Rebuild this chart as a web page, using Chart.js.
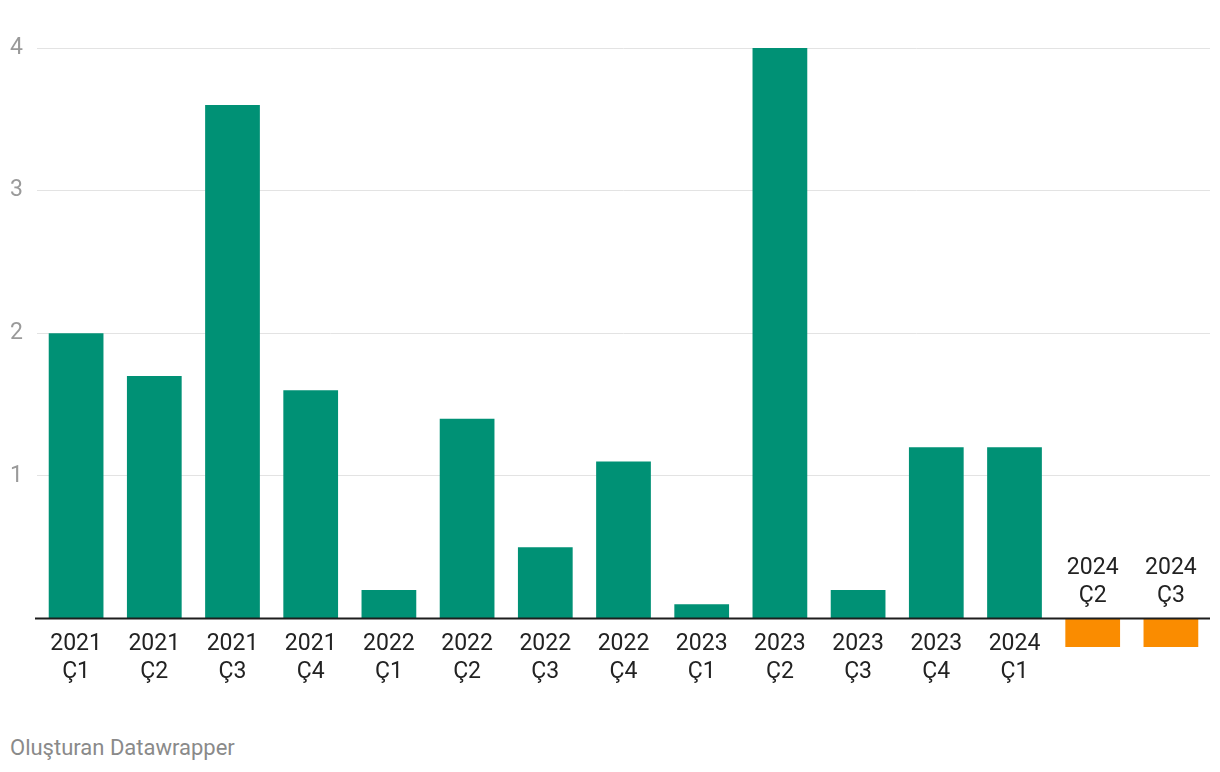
<!DOCTYPE html>
<html>
<head>
<meta charset="utf-8">
<script src="https://cdn.jsdelivr.net/npm/chart.js@4"></script>
<style>
  html, body { margin: 0; padding: 0; background: #fff; }
  #wrap { position: relative; width: 1220px; height: 772px; }
  #footer { position: absolute; left: 10px; top: 735px; font: 22px Roboto, sans-serif; color: #8a8a8a; }
</style>
</head>
<body>
<div id="wrap">
  <canvas id="chart" width="1220" height="720"></canvas>
  <div id="footer">Oluşturan Datawrapper</div>
</div>
<script>
// quarterly values
const years = ['2021', '2021', '2021', '2021', '2022', '2022', '2022', '2022', '2023', '2023', '2023', '2023', '2024', '2024', '2024'];
const quarters = ['Ç1', 'Ç2', 'Ç3', 'Ç4', 'Ç1', 'Ç2', 'Ç3', 'Ç4', 'Ç1', 'Ç2', 'Ç3', 'Ç4', 'Ç1', 'Ç2', 'Ç3'];
const values = [2.0, 1.7, 3.6, 1.6, 0.2, 1.4, 0.5, 1.1, 0.1, 4.0, 0.2, 1.2, 1.2, -0.2, -0.2];
const yTicks = [0, 1, 2, 3, 4];

const GREEN = '#009175';
const ORANGE = '#fa8c00';

// draws the zero line and the two-line category labels
const labelPlugin = {
    id: 'labelPlugin',
    afterDatasetsDraw(chart) {
        const ctx = chart.ctx;
        const x = chart.scales.x;
        const y = chart.scales.y;
        const y0 = y.getPixelForValue(0);

        ctx.save();
        ctx.strokeStyle = '#1d1d1d';
        ctx.lineWidth = 2;
        ctx.beginPath();
        ctx.moveTo(chart.chartArea.left - 2, y0);
        ctx.lineTo(chart.chartArea.right, y0);
        ctx.stroke();

        ctx.fillStyle = '#222';
        ctx.font = '23px Roboto, sans-serif';
        ctx.textAlign = 'center';
        ctx.textBaseline = 'middle';
        for (let i = 0; i < values.length; i++) {
            const cx = x.getPixelForValue(i);
            if (values[i] >= 0) {
                ctx.fillText(years[i], cx, y0 + 26);
                ctx.fillText(quarters[i], cx, y0 + 54);
            } else {
                ctx.fillText(years[i], cx, y0 - 50);
                ctx.fillText(quarters[i], cx, y0 - 22);
            }
        }
        ctx.restore();
    }
};

const ctx = document.getElementById('chart').getContext('2d');
new Chart(ctx, {
    type: 'bar',
    data: {
        labels: years.map((y, i) => y + ' ' + quarters[i]),
        datasets: [{
            data: values,
            backgroundColor: values.map(v => v < 0 ? ORANGE : GREEN),
            borderWidth: 0,
            categoryPercentage: 1,
            barPercentage: 0.7
        }]
    },
    options: {
        responsive: false,
        animation: false,
        layout: { padding: { left: 10, right: 10, top: 48, bottom: 73 } },
        plugins: {
            legend: { display: false },
            tooltip: { enabled: false }
        },
        scales: {
            x: {
                display: false
            },
            y: {
                min: -0.2,
                max: 4,
                afterBuildTicks: scale => { scale.ticks = yTicks.map(v => ({ value: v })); },
                afterFit: scale => { scale.width = 27; },
                border: { display: false },
                grid: {
                    color: c => c.tick && c.tick.value === 0 ? 'rgba(0,0,0,0)' : '#e3e3e3',
                    lineWidth: 1,
                    drawTicks: false
                },
                ticks: {
                    crossAlign: 'far',
                    padding: 0,
                    color: '#9a9a9a',
                    font: { family: 'Roboto', size: 23 },
                    callback: v => v === 0 ? '' : String(v)
                }
            }
        }
    },
    plugins: [labelPlugin]
});
</script>
</body>
</html>
